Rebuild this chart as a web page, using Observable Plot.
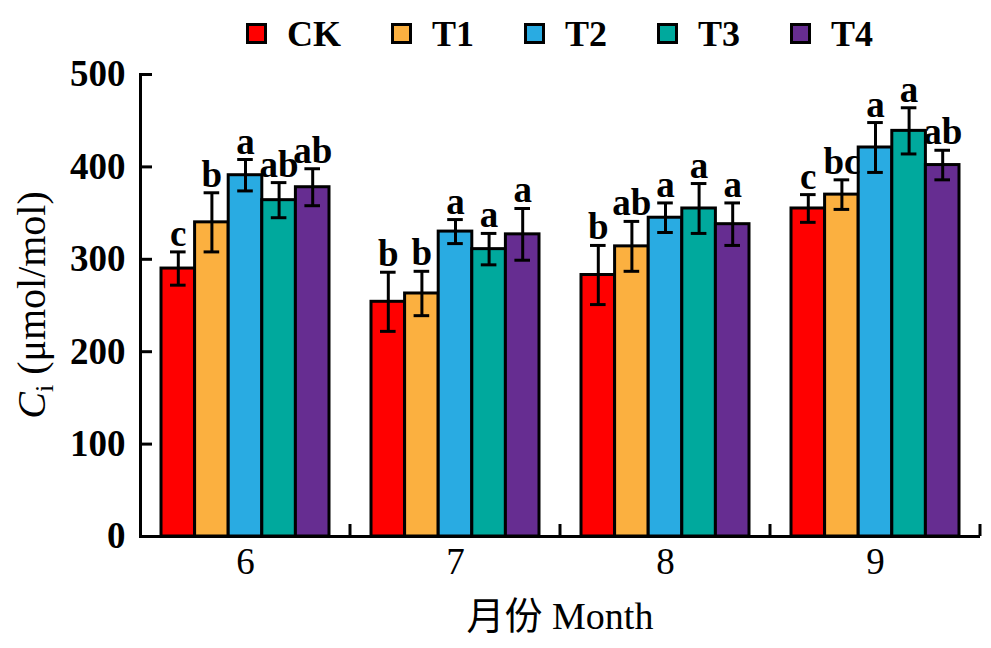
<!DOCTYPE html>
<html><head><meta charset="utf-8">
<script src="https://cdn.jsdelivr.net/npm/d3@7"></script>
<script src="https://cdn.jsdelivr.net/npm/@observablehq/plot@0.6"></script>
<style>
body{margin:0;background:#fff;}
#legend{height:56px;box-sizing:border-box;padding-left:246px;padding-top:11px;display:flex;align-items:center;font-family:"Liberation Serif",serif;font-weight:bold;font-size:36px;}
.item{display:flex;align-items:center;margin-right:50px;}
.sw{width:15px;height:15px;border:3px solid #000;}
.lab{margin-left:20px;line-height:1;}
</style></head><body>
<div id="legend"></div><div id="chart"></div>
<script>
const months = [6, 7, 8, 9];
const treatments = ["CK", "T1", "T2", "T3", "T4"];
const colors = ["#FF0000", "#FBB040", "#29ABE2", "#00A99D", "#662D91"];
// Ci values (μmol/mol) per month 6..9
const ciCK = [290, 254, 283, 355];
const ciT1 = [340, 263, 314, 370];
const ciT2 = [391, 330, 345, 421];
const ciT3 = [364, 311, 355, 439];
const ciT4 = [378, 327, 338, 402];
// error bar half-lengths
const seCK = [18, 32, 32, 15];
const seT1 = [32, 24, 27, 16];
const seT2 = [17, 13, 16, 27];
const seT3 = [19, 17, 27, 25];
const seT4 = [20, 28, 23, 16];
// significance letters
const sigCK = ["c", "b", "b", "c"];
const sigT1 = ["b", "b", "ab", "bc"];
const sigT2 = ["a", "a", "a", "a"];
const sigT3 = ["ab", "a", "a", "a"];
const sigT4 = ["ab", "a", "a", "ab"];
const yTicks = [0, 100, 200, 300, 400, 500];
const xTitle = "月份 Month";

const values = {CK: ciCK, T1: ciT1, T2: ciT2, T3: ciT3, T4: ciT4};
const ses = {CK: seCK, T1: seT1, T2: seT2, T3: seT3, T4: seT4};
const sigs = {CK: sigCK, T1: sigT1, T2: sigT2, T3: sigT3, T4: sigT4};
const rows = [];
months.forEach((m, i) => treatments.forEach(t => rows.push({month: m, trt: t, value: values[t][i], se: ses[t][i], sig: sigs[t][i]})));

// legend
const leg = d3.select("#legend");
treatments.forEach((t, i) => {
  const it = leg.append("div").attr("class", "item");
  it.append("div").attr("class", "sw").style("background", colors[i]);
  it.append("div").attr("class", "lab").text(t);
});

const chart = Plot.plot({
  width: 991, height: 592,
  marginTop: 18, marginBottom: 112, marginLeft: 140, marginRight: 11,
  style: {fontFamily: '"Liberation Serif", serif', background: "white", overflow: "visible", color: "#000"},
  fx: {domain: months, padding: 0, round: false},
  x: {domain: treatments, paddingInner: 0, paddingOuter: 0.625, axis: null, round: false},
  y: {domain: [0, 500]},
  color: {domain: treatments, range: colors},
  marks: [
    Plot.barY(rows, {fx: "month", x: "trt", y: "value", fill: "trt", stroke: "#000", strokeWidth: 3}),
    Plot.ruleX(rows, {fx: "month", x: "trt", y1: d => d.value - d.se, y2: d => d.value + d.se, stroke: "#000", strokeWidth: 3}),
    Plot.tickY(rows, {fx: "month", x: "trt", y: d => d.value - d.se, insetLeft: 9, insetRight: 9, stroke: "#000", strokeWidth: 3}),
    Plot.tickY(rows, {fx: "month", x: "trt", y: d => d.value + d.se, insetLeft: 9, insetRight: 9, stroke: "#000", strokeWidth: 3}),
    Plot.text(rows, {fx: "month", x: "trt", y: d => d.value + d.se, text: "sig", lineAnchor: "bottom", dy: -6, fontSize: 37, fontWeight: "bold", fill: "#000"}),
    Plot.ruleY([0], {stroke: "#000", strokeWidth: 3}),
    Plot.frame({anchor: "left", facetAnchor: "left", stroke: "#000", strokeWidth: 3}),
    Plot.axisY({ticks: yTicks, tickSize: -12, tickPadding: 27, stroke: "#000", strokeWidth: 3, fontSize: 37, fontWeight: "bold", label: null, tickFormat: d => String(d)}),
    Plot.axisFx({anchor: "bottom", tickSize: 0, tickPadding: 11, fontSize: 37, label: null})
  ]
});
document.getElementById("chart").appendChild(chart);

const svg = d3.select(chart.tagName.toLowerCase() === "svg" ? chart : chart.querySelector("svg"));
const fx = chart.scale("fx");
const y = chart.scale("y");
const y0 = y.apply(0);
months.forEach(m => {
  const xr = fx.apply(m) + fx.bandwidth;
  svg.append("line").attr("x1", xr).attr("x2", xr).attr("y1", y0).attr("y2", y0 - 12)
    .attr("stroke", "#000").attr("stroke-width", 3);
});
const cy = (y.apply(0) + y.apply(500)) / 2;
const yl = svg.append("text").attr("transform", `translate(45,${cy}) rotate(-90)`)
  .attr("text-anchor", "middle").attr("font-size", 40).attr("fill", "#000")
  .attr("font-family", '"Liberation Serif", serif');
yl.append("tspan").attr("font-style", "italic").text("C");
yl.append("tspan").attr("font-size", 26).attr("dy", 8).text("i");
yl.append("tspan").attr("dy", -8).text(" (μmol/mol)");
const cx = (fx.range[0] + fx.range[1]) / 2;
svg.append("text").attr("x", cx).attr("y", 573).attr("text-anchor", "middle")
  .attr("font-size", 38).attr("fill", "#000")
  .attr("font-family", '"Liberation Serif", "Noto Sans CJK SC", serif').text(xTitle);
</script></body></html>
